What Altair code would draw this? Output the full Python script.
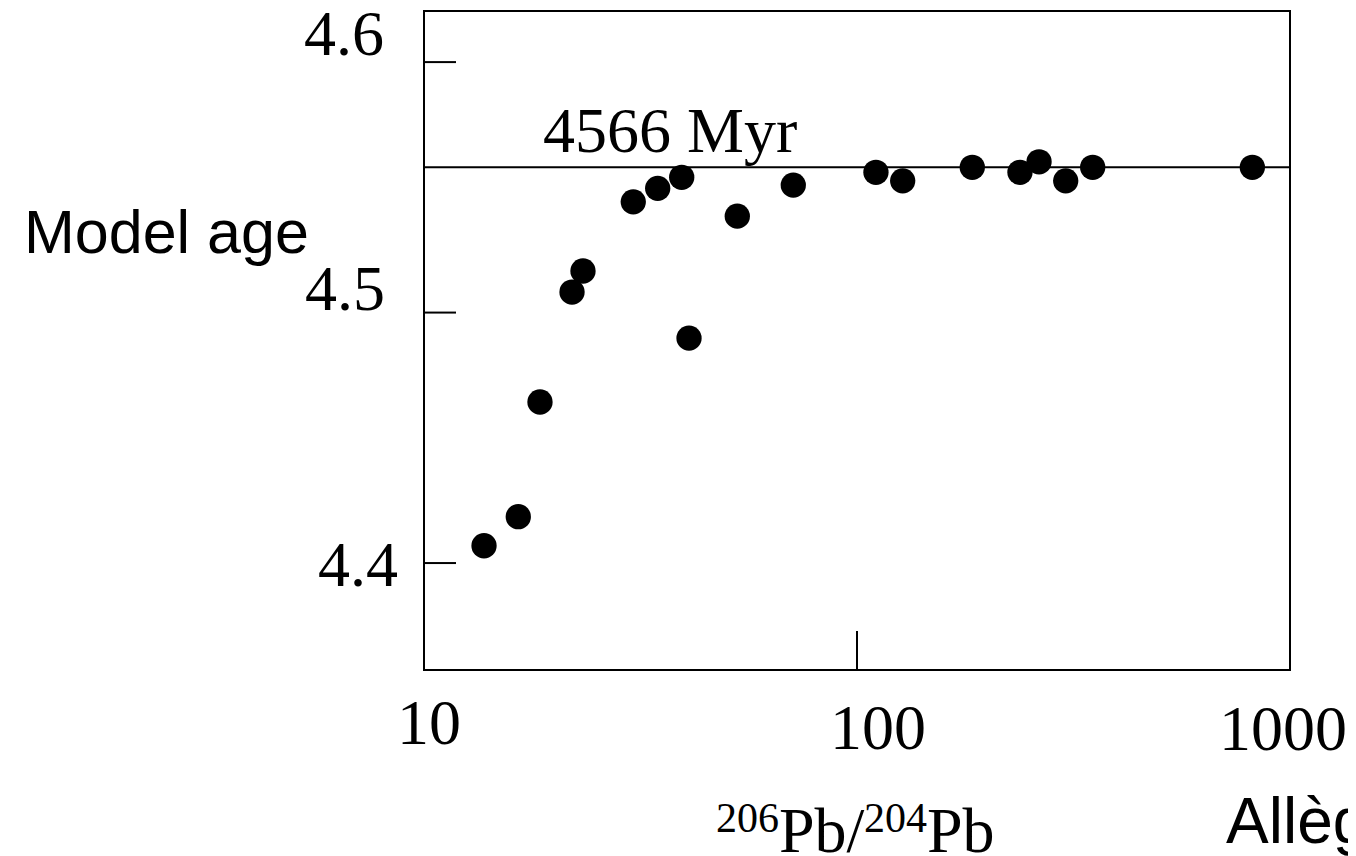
import altair as alt
import pandas as pd

# ---- data ----
ratio = [13.76, 16.51, 18.53, 21.97, 23.29, 30.43, 34.65, 39.37, 40.93, 52.91,
         71.26, 110.6, 127.5, 184.6, 237.9, 263.3, 303.4, 350.2, 818.5]
age = [4.4069, 4.4185, 4.4643, 4.5082, 4.5166, 4.5442, 4.5496, 4.5540, 4.4898, 4.5385,
       4.5509, 4.5560, 4.5526, 4.5580, 4.5560, 4.5602, 4.5526, 4.5580, 4.5580]
ref_age = [4.558]
ref_label = ["4566 Myr"]
y_ticks = [4.4, 4.5, 4.6]
y_tick_labels = ["4.4", "4.5", "4.6"]
x_tick_marks = [100]
x_tick_values = [10, 100, 1000]
x_tick_labels = ["10", "100", "1000"]
y_title = ["Model age"]
x_title_parts = ["206", "Pb/", "204", "Pb"]
source_text = ["Allègre et al."]

SERIF = "Liberation Serif, Times New Roman, serif"
SANS = "Liberation Sans, Arial, sans-serif"

W, H = 866, 659
xs = alt.Scale(type="log", domain=[10, 1000], nice=False)
ys = alt.Scale(domain=[4.3573, 4.6204], nice=False, zero=False)

pts = pd.DataFrame({"ratio": ratio, "age": age})

points = alt.Chart(pts).mark_circle(size=640, color="black", opacity=1).encode(
    x=alt.X("ratio:Q", scale=xs, axis=None),
    y=alt.Y("age:Q", scale=ys, axis=None),
)

ref = alt.Chart(pd.DataFrame({"age": ref_age})).mark_rule(color="black", strokeWidth=2).encode(
    y=alt.Y("age:Q", scale=ys, axis=None)
)

ref_text = alt.Chart(pd.DataFrame({"t": ref_label})).mark_text(
    align="left", baseline="alphabetic", font=SERIF, fontSize=64, color="black"
).encode(x=alt.value(119), y=alt.value(141), text="t:N")

yticks = alt.Chart(pd.DataFrame({"v": y_ticks})).mark_rule(color="black", strokeWidth=2).encode(
    y=alt.Y("v:Q", scale=ys, axis=None), x=alt.value(0), x2=alt.value(32)
)

xticks = alt.Chart(pd.DataFrame({"v": x_tick_marks})).mark_rule(color="black", strokeWidth=2).encode(
    x=alt.X("v:Q", scale=xs, axis=None), y=alt.value(620), y2=alt.value(H)
)

# y tick labels (individual placement as in the reference)
ylab_x = [-26, -39, -40]
ylab_dy = [23, -3, -7]
ylabels = []
for v, lab, xp, dy in zip(y_ticks, y_tick_labels, ylab_x, ylab_dy):
    ylabels.append(
        alt.Chart(pd.DataFrame({"v": [v], "t": [lab]})).mark_text(
            align="right", baseline="alphabetic", font=SERIF, fontSize=64, color="black", dy=dy
        ).encode(y=alt.Y("v:Q", scale=ys, axis=None), x=alt.value(xp), text="t:N")
    )

# x tick labels
xlab_dx = [5, 21, -7]
xlab_y = [733, 738, 739]
xlabels = []
for v, lab, dx, yp in zip(x_tick_values, x_tick_labels, xlab_dx, xlab_y):
    xlabels.append(
        alt.Chart(pd.DataFrame({"v": [v], "t": [lab]})).mark_text(
            align="center", baseline="alphabetic", font=SERIF, fontSize=64, color="black", dx=dx
        ).encode(x=alt.X("v:Q", scale=xs, axis=None), y=alt.value(yp), text="t:N")
    )

ytitle = alt.Chart(pd.DataFrame({"t": y_title})).mark_text(
    align="left", baseline="alphabetic", font=SANS, fontSize=61, color="black"
).encode(x=alt.value(-400), y=alt.value(242), text="t:N")

# x title with superscripts
part_x = [292, 355, 440, 503]
part_y = [821, 841, 821, 841]
part_size = [42, 64, 42, 64]
xtitle = []
for t, xp, yp, fs in zip(x_title_parts, part_x, part_y, part_size):
    xtitle.append(
        alt.Chart(pd.DataFrame({"t": [t]})).mark_text(
            align="left", baseline="alphabetic", font=SERIF, fontSize=fs, color="black"
        ).encode(x=alt.value(xp), y=alt.value(yp), text="t:N")
    )

source = alt.Chart(pd.DataFrame({"t": source_text})).mark_text(
    align="left", baseline="alphabetic", font=SANS, fontSize=64, color="black"
).encode(x=alt.value(802), y=alt.value(832), text="t:N")

chart = alt.layer(
    ref, yticks, xticks, points, ref_text, ytitle, source, *ylabels, *xlabels, *xtitle
).properties(
    width=W, height=H,
    autosize=alt.AutoSizeParams(type="none"),
    padding={"left": 416, "top": 3, "right": 58, "bottom": 186},
    background="white",
).configure_view(stroke="black", strokeWidth=2)

chart.save("out.html", embed_options={"renderer": "svg", "actions": False})
